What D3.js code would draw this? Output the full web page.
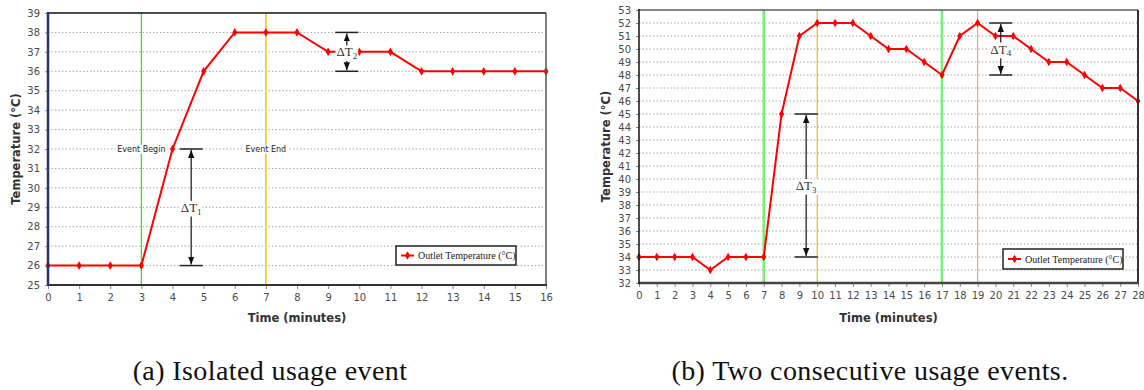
<!DOCTYPE html>
<html>
<head>
<meta charset="utf-8">
<script src="https://cdn.jsdelivr.net/npm/d3@7"></script>
<style>
  body { margin: 0; background: #fff; }
  svg { display: block; }
</style>
</head>
<body>
<div id="chart"></div>
<script>
// panel (a): isolated usage event
const minutesA = [0, 1, 2, 3, 4, 5, 6, 7, 8, 9, 10, 11, 12, 13, 14, 15, 16];
const outletA = [26, 26, 26, 26, 32, 36, 38, 38, 38, 37, 37, 37, 36, 36, 36, 36, 36];
const yTicksA = [25, 26, 27, 28, 29, 30, 31, 32, 33, 34, 35, 36, 37, 38, 39];
const eventsA = [
    { t: 3, kind: "begin", label: "Event Begin" },
    { t: 7, kind: "end", label: "Event End" }
];
const deltasA = [
    { sub: "1", t: 4.6, lo: 26, hi: 32 },
    { sub: "2", t: 9.6, lo: 36, hi: 38 }
];

// panel (b): two consecutive usage events
const minutesB = [0, 1, 2, 3, 4, 5, 6, 7, 8, 9, 10, 11, 12, 13, 14, 15, 16, 17, 18, 19, 20, 21, 22, 23, 24, 25, 26, 27, 28];
const outletB = [34, 34, 34, 34, 33, 34, 34, 34, 45, 51, 52, 52, 52, 51, 50, 50, 49, 48, 51, 52, 51, 51, 50, 49, 49, 48, 47, 47, 46];
const yTicksB = [32, 33, 34, 35, 36, 37, 38, 39, 40, 41, 42, 43, 44, 45, 46, 47, 48, 49, 50, 51, 52, 53];
const eventsB = [
    { t: 7, kind: "begin" },
    { t: 10, kind: "end" },
    { t: 17, kind: "begin" },
    { t: 19, kind: "end" }
];
const deltasB = [
    { sub: "3", t: 9.38, lo: 34, hi: 45 },
    { sub: "4", t: 20.3, lo: 48, hi: 52 }
];

const legendLabel = "Outlet Temperature (°C)";
const xTitle = "Time (minutes)";
const yTitle = "Temperature (°C)";
const captions = ["(a) Isolated usage event", "(b) Two consecutive usage events."];

const svg = d3.select("#chart")
    .append("svg")
    .attr("width", 1144)
    .attr("height", 390);

const defs = svg.append("defs");
defs.append("marker")
    .attr("id", "arrow")
    .attr("viewBox", "0 0 8 8")
    .attr("refX", 8)
    .attr("refY", 4)
    .attr("markerWidth", 8)
    .attr("markerHeight", 8)
    .attr("markerUnits", "userSpaceOnUse")
    .attr("orient", "auto-start-reverse")
    .append("path")
    .attr("d", "M0,0.8 L8,4 L0,7.2 z")
    .attr("fill", "#111");

const star = d3.symbol().type(d3.symbolDiamond).size(22);

function DrawPanel(cfg) {
    const { times, values, yTicks, events, deltas, box, style } = cfg;
    const g = svg.append("g");

    const x = d3.scaleLinear()
        .domain([times[0], times[times.length - 1]])
        .range([box.left, box.right]);
    const y = d3.scaleLinear()
        .domain([yTicks[0], yTicks[yTicks.length - 1]])
        .range([box.bottom, box.top]);

    // dotted grid
    g.append("g").selectAll("line")
        .data(yTicks.slice(1, -1))
        .join("line")
        .attr("x1", box.left).attr("x2", box.right)
        .attr("y1", d => y(d)).attr("y2", d => y(d))
        .attr("stroke", "#a8a8a8")
        .attr("stroke-width", 1)
        .attr("stroke-dasharray", "1.5,2");

    // event markers
    g.append("g").selectAll("line")
        .data(events)
        .join("line")
        .attr("x1", d => x(d.t)).attr("x2", d => x(d.t))
        .attr("y1", box.top).attr("y2", box.bottom)
        .attr("stroke", d => d.kind === "begin" ? style.begin : style.end)
        .attr("stroke-width", d => d.kind === "begin" ? style.beginW : style.endW);

    const pts = times.map((t, i) => ({ t, v: values[i] }));

    g.append("path")
        .datum(pts)
        .attr("fill", "none")
        .attr("stroke", "#ff0000")
        .attr("stroke-width", 2)
        .attr("d", d3.line().x(d => x(d.t)).y(d => y(d.v)));

    g.append("g").selectAll("path")
        .data(pts)
        .join("path")
        .attr("transform", d => `translate(${x(d.t)},${y(d.v)})`)
        .attr("d", star)
        .attr("fill", "#ff0000");

    // event labels (panel a only)
    events.filter(d => d.label).forEach(d => {
        const t = g.append("text")
            .attr("x", x(d.t))
            .attr("y", y(32))
            .attr("dy", "0.35em")
            .attr("text-anchor", "middle")
            .attr("font-family", "DejaVu Sans, sans-serif")
            .attr("font-size", 8)
            .attr("fill", "#222")
            .text(d.label);
        const bb = t.node().getBBox();
        g.insert("rect", () => t.node())
            .attr("x", bb.x - 2).attr("y", bb.y)
            .attr("width", bb.width + 4).attr("height", bb.height)
            .attr("fill", "#fff");
    });

    // delta T annotations
    deltas.forEach(d => {
        const cx = x(d.t);
        const half = style.deltaHalf;
        g.selectAll(null)
            .data([d.lo, d.hi])
            .join("line")
            .attr("x1", cx - half).attr("x2", cx + half)
            .attr("y1", v => y(v)).attr("y2", v => y(v))
            .attr("stroke", "#222")
            .attr("stroke-width", 1.5);
        g.append("line")
            .attr("x1", cx).attr("x2", cx)
            .attr("y1", y(d.hi) + 1).attr("y2", y(d.lo) - 1)
            .attr("stroke", "#111")
            .attr("stroke-width", 1.2)
            .attr("marker-start", "url(#arrow)")
            .attr("marker-end", "url(#arrow)");
        const t = g.append("text")
            .attr("x", cx)
            .attr("y", y((d.lo + d.hi) / 2))
            .attr("dy", "0.35em")
            .attr("text-anchor", "middle")
            .attr("font-family", "Liberation Serif, serif")
            .attr("font-size", 13)
            .attr("fill", "#333");
        t.append("tspan").text("ΔT");
        t.append("tspan").attr("font-size", 9).attr("dy", "0.3em").text(d.sub);
        const bb = t.node().getBBox();
        g.insert("rect", () => t.node())
            .attr("x", bb.x - 1).attr("y", bb.y + 1)
            .attr("width", bb.width + 2).attr("height", bb.height - 1)
            .attr("fill", "#fff");
    });

    // axes
    const yAxis = g.append("g")
        .attr("transform", `translate(${box.left},0)`)
        .call(d3.axisLeft(y).tickValues(yTicks).tickSize(3).tickPadding(5).tickFormat(d3.format("d")));
    const xAxis = g.append("g")
        .attr("transform", `translate(0,${box.bottom})`)
        .call(d3.axisBottom(x).tickValues(times).tickSize(4).tickPadding(5).tickFormat(d3.format("d")));
    [yAxis, xAxis].forEach(a => {
        a.select(".domain").remove();
        a.selectAll(".tick line").attr("stroke", "#888");
        a.selectAll(".tick text")
            .attr("font-family", "DejaVu Sans, sans-serif")
            .attr("font-size", 10)
            .attr("fill", "#4a4a4a");
    });

    // frame
    const frame = [
        { x1: box.left, y1: box.top, x2: box.right, y2: box.top, c: style.top, w: style.topW },
        { x1: box.right, y1: box.top, x2: box.right, y2: box.bottom, c: style.rightC, w: style.rightW },
        { x1: box.left - 1, y1: box.bottom, x2: box.right + 1, y2: box.bottom, c: style.bottomC, w: style.bottomW },
        { x1: box.left, y1: box.top - 1, x2: box.left, y2: box.bottom + 1, c: style.leftC, w: style.leftW }
    ];
    g.append("g").selectAll("line")
        .data(frame)
        .join("line")
        .attr("x1", d => d.x1).attr("y1", d => d.y1)
        .attr("x2", d => d.x2).attr("y2", d => d.y2)
        .attr("stroke", d => d.c)
        .attr("stroke-width", d => d.w);

    // legend
    const lg = g.append("g").attr("transform", `translate(${cfg.legend.x},${cfg.legend.y})`);
    lg.append("rect")
        .attr("width", cfg.legend.w).attr("height", cfg.legend.h)
        .attr("fill", "#fff")
        .attr("stroke", "#222")
        .attr("stroke-width", 1.5);
    lg.append("line")
        .attr("x1", 5).attr("x2", 18)
        .attr("y1", cfg.legend.h / 2).attr("y2", cfg.legend.h / 2)
        .attr("stroke", "#ff0000").attr("stroke-width", 2);
    lg.append("path")
        .attr("transform", `translate(11.5,${cfg.legend.h / 2})`)
        .attr("d", star)
        .attr("fill", "#ff0000");
    lg.append("text")
        .attr("x", 22)
        .attr("y", cfg.legend.h / 2)
        .attr("dy", "0.35em")
        .attr("font-family", "Liberation Serif, serif")
        .attr("font-size", 10)
        .attr("fill", "#222")
        .text(legendLabel);

    // axis titles
    g.append("text")
        .attr("x", (box.left + box.right) / 2)
        .attr("y", 322)
        .attr("text-anchor", "middle")
        .attr("font-family", "DejaVu Sans, sans-serif")
        .attr("font-weight", "bold")
        .attr("font-size", 11.5)
        .attr("fill", "#333")
        .text(xTitle);
    g.append("text")
        .attr("transform", `translate(${cfg.yTitleX},${(box.top + box.bottom) / 2}) rotate(-90)`)
        .attr("text-anchor", "middle")
        .attr("font-family", "DejaVu Sans, sans-serif")
        .attr("font-weight", "bold")
        .attr("font-size", 11.5)
        .attr("fill", "#333")
        .text(yTitle);

    // caption
    svg.append("text")
        .attr("x", cfg.captionX)
        .attr("y", 380)
        .attr("text-anchor", "middle")
        .attr("font-family", "Liberation Serif, serif")
        .attr("font-size", 28)
        .attr("letter-spacing", 0.4)
        .attr("fill", "#111")
        .text(cfg.caption);
}

DrawPanel({
    times: minutesA, values: outletA, yTicks: yTicksA, events: eventsA, deltas: deltasA,
    box: { left: 48, right: 546, top: 13, bottom: 285 },
    style: {
        begin: "#22f022", beginW: 1.3, end: "#ffc800", endW: 1.6,
        top: "#111", topW: 1.5, rightC: "#555", rightW: 1.5,
        bottomC: "#333", bottomW: 2, leftC: "#2b2f78", leftW: 2.5,
        deltaHalf: 11.5
    },
    legend: { x: 396, y: 246, w: 120, h: 19 },
    yTitleX: 20,
    caption: captions[0], captionX: 270
});

DrawPanel({
    times: minutesB, values: outletB, yTicks: yTicksB, events: eventsB, deltas: deltasB,
    box: { left: 639, right: 1138, top: 10, bottom: 283 },
    style: {
        begin: "#7aee7a", beginW: 2.5, end: "#eeb43a", endW: 1.2,
        top: "#111", topW: 1, rightC: "#333", rightW: 2,
        bottomC: "#444", bottomW: 2.5, leftC: "#111", leftW: 1.5,
        deltaHalf: 11.5
    },
    legend: { x: 1003, y: 249, w: 120, h: 20 },
    yTitleX: 610,
    caption: captions[1], captionX: 870
});
</script>
</body>
</html>
